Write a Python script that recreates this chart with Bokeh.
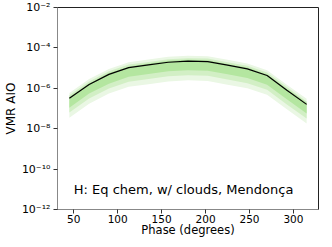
from bokeh.plotting import figure
from bokeh.models import Range1d, FixedTicker, CustomJSTickFormatter, Label
from bokeh.embed import file_html
from bokeh.resources import INLINE

phase = [45, 67.5, 90, 112.5, 135, 157.5, 180, 202.5, 225, 247.5, 270, 292.5, 315]
median = [3.2e-7, 1.55e-6, 4.9e-6, 1.05e-5, 1.45e-5, 1.95e-5, 2.2e-5, 2.1e-5, 1.4e-5, 9.1e-6, 4.3e-6, 8.0e-7, 1.6e-7]
b1_hi = [3.7e-7, 1.8e-6, 5.8e-6, 1.2e-5, 1.7e-5, 2.3e-5, 2.6e-5, 2.45e-5, 1.6e-5, 1.07e-5, 5.0e-6, 9.5e-7, 1.9e-7]
b1_lo = [1.1e-7, 5.5e-7, 1.7e-6, 3.7e-6, 5.1e-6, 6.9e-6, 7.8e-6, 7.4e-6, 4.9e-6, 3.2e-6, 1.5e-6, 2.9e-7, 5.6e-8]
b2_hi = [4.5e-7, 2.2e-6, 6.9e-6, 1.5e-5, 2.0e-5, 2.75e-5, 3.1e-5, 2.95e-5, 1.95e-5, 1.3e-5, 6.0e-6, 1.15e-6, 2.2e-7]
b2_lo = [6.3e-8, 3.1e-7, 9.8e-7, 2.1e-6, 2.9e-6, 3.9e-6, 4.4e-6, 4.2e-6, 2.75e-6, 1.8e-6, 8.5e-7, 1.6e-7, 3.2e-8]
b3_hi = [5.9e-7, 2.9e-6, 9.1e-6, 1.95e-5, 2.7e-5, 3.6e-5, 4.1e-5, 3.9e-5, 2.6e-5, 1.7e-5, 7.9e-6, 1.5e-6, 3.0e-7]
b3_lo = [3.5e-8, 1.7e-7, 5.5e-7, 1.2e-6, 1.6e-6, 2.2e-6, 2.5e-6, 2.3e-6, 1.5e-6, 1.0e-6, 4.8e-7, 9.1e-8, 1.8e-8]

x_ticks = [50, 100, 150, 200, 250, 300]
y_ticks = [1e-12, 1e-10, 1e-8, 1e-6, 1e-4, 1e-2]
label_text = "H: Eq chem, w/ clouds, Mendonça"
x_title = "Phase (degrees)"
y_title = "VMR AIO"

FONT = "DejaVu Sans"
X0, X1 = 31.5, 328.5

p = figure(width=324, height=239, output_backend="svg", toolbar_location=None,
           y_axis_type="log",
           x_range=Range1d(X0, X1), y_range=Range1d(1e-12, 1e-2),
           min_border_left=47, min_border_right=6, min_border_top=7, min_border_bottom=20)
p.grid.visible = False
p.outline_line_color = "#222222"
p.outline_line_width = 1
p.background_fill_color = "white"
p.border_fill_color = "white"

for lo, hi, col in [(b3_lo, b3_hi, "#eaf7e4"), (b2_lo, b2_hi, "#d2efc5"), (b1_lo, b1_hi, "#b4e6a0")]:
    p.varea(x=phase, y1=lo, y2=hi, fill_color=col, fill_alpha=1.0)
p.line(phase, median, line_color="black", line_width=1.2)

p.xaxis.ticker = FixedTicker(ticks=x_ticks)
p.yaxis.ticker = FixedTicker(ticks=y_ticks, minor_ticks=[])
p.yaxis.formatter = CustomJSTickFormatter(code="""
const sup = {'-':'\u207b','0':'\u2070','1':'\u00b9','2':'\u00b2','3':'\u00b3','4':'\u2074','5':'\u2075','6':'\u2076','7':'\u2077','8':'\u2078','9':'\u2079'};
const e = Math.round(Math.log10(tick)).toString();
return '10' + e.split('').map(c => sup[c]).join('');
""")
for ax in (p.xaxis, p.yaxis):
    ax.axis_line_color = "#888888"
    ax.major_tick_line_color = "#333333"
    ax.major_tick_in = 0
    ax.major_tick_out = 4
    ax.minor_tick_in = 0
    ax.minor_tick_out = 0
    ax.major_label_text_font = FONT
    ax.major_label_text_font_size = "11px"
    ax.major_label_text_color = "black"
    ax.axis_label_text_font = FONT
    ax.axis_label_text_font_size = "12px"
    ax.axis_label_text_font_style = "normal"
    ax.axis_label_text_color = "black"
p.xaxis.major_label_text_font_size = "10.5px"
p.xaxis.axis_label_text_font_size = "11.5px"
p.xaxis.major_label_text_line_height = 1.0
p.xaxis.axis_label_text_line_height = 1.0
p.yaxis.axis_label = y_title
p.xaxis.axis_label = x_title
p.xaxis.major_label_standoff = 1
p.xaxis.axis_label_standoff = -3
p.yaxis.major_label_standoff = 3
p.yaxis.axis_label_standoff = 1

p.add_layout(Label(x=50, y=1e-11, text=label_text, text_font=FONT,
                   text_font_size="13px", text_color="black",
                   text_align="left", text_baseline="alphabetic"))

open("out.html", "w").write(file_html(p, INLINE))
